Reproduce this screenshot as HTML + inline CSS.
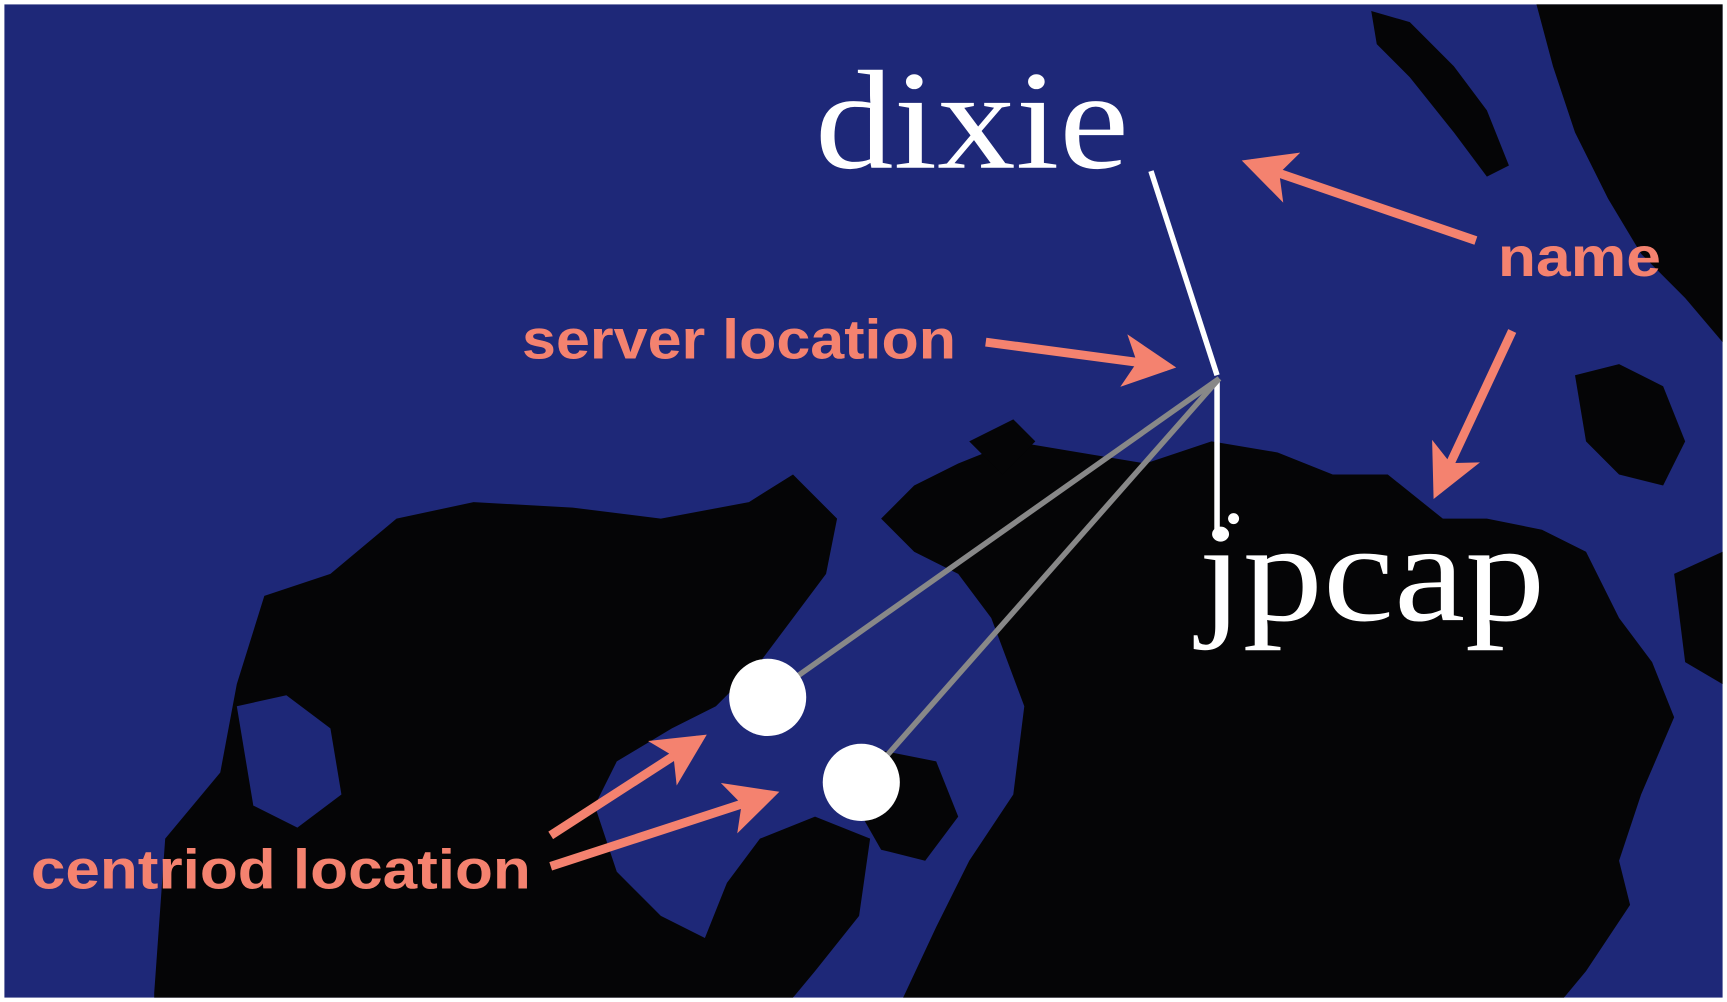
<!DOCTYPE html>
<html><head><meta charset="utf-8"><style>
html,body{margin:0;padding:0;background:#fff;width:1727px;height:1002px;overflow:hidden}
svg{display:block}
.lbl{font-family:"Liberation Sans",sans-serif;font-weight:bold;fill:#f4826f}
.ser{font-family:"Liberation Serif",serif;fill:#fff}
</style></head><body>
<svg width="1727" height="1002" viewBox="0 0 1568 908" preserveAspectRatio="none">
<defs>
<marker id="ah" markerWidth="6" markerHeight="6" refX="5" refY="3" orient="auto" markerUnits="strokeWidth">
<path d="M0,0 L6,3 L0,6 L1.5,3 Z" fill="#f4826f"/>
</marker>
</defs>
<rect x="0" y="0" width="1568" height="908" fill="#fff"/>
<rect x="4" y="4" width="1560" height="900" fill="#1e2878"/>
<g fill="#050506">
<path d="M140,900 L150,760 L200,700 L215,620 L240,540 L300,520 L360,470 L430,455 L520,460 L600,470 L680,455 L720,430 L760,470 L750,520 L720,560 L690,600 L650,640 L610,660 L560,690 L540,730 L560,790 L600,830 L640,850 L660,800 L690,760 L740,740 L790,760 L780,830 L740,880 L720,904 L140,904 Z"/>
<path d="M215,640 L260,630 L300,660 L310,720 L270,750 L230,730 Z" fill="#1e2878"/>
<path d="M820,904 L850,840 L880,780 L920,720 L930,640 L900,560 L870,520 L830,500 L800,470 L830,440 L870,420 L920,400 L980,410 L1040,420 L1100,400 L1160,410 L1210,430 L1260,430 L1310,470 L1350,470 L1400,480 L1440,500 L1470,560 L1500,600 L1520,650 L1490,720 L1470,780 L1480,820 L1460,850 L1440,880 L1420,904 Z"/>
<path d="M760,700 L800,680 L850,690 L870,740 L840,780 L800,770 Z"/>
<path d="M1395,4 L1564,4 L1564,310 L1530,270 L1490,230 L1460,180 L1430,120 L1410,60 Z"/>
<path d="M1245,10 L1280,20 L1320,60 L1350,100 L1370,150 L1350,160 L1320,120 L1280,70 L1250,40 Z"/>
<path d="M1430,340 L1470,330 L1510,350 L1530,400 L1510,440 L1470,430 L1440,400 Z"/>
<path d="M880,400 L920,380 L940,400 L910,430 Z"/>
<path d="M1520,520 L1564,500 L1564,620 L1530,600 Z"/>
</g>
<line x1="1045" y1="155" x2="1105" y2="340" stroke="#fff" stroke-width="5"/>
<line x1="1105" y1="345" x2="1105" y2="480" stroke="#fff" stroke-width="5"/>
<circle cx="1120" cy="470" r="5" fill="#fff"/>
<line x1="1107" y1="343" x2="725" y2="612" stroke="#888" stroke-width="5"/>
<line x1="1107" y1="343" x2="805" y2="685" stroke="#888" stroke-width="5"/>
<circle cx="697" cy="632" r="35" fill="#fff"/>
<circle cx="782" cy="709" r="35" fill="#fff"/>
<text class="ser" x="740" y="152" font-size="128" textLength="285" lengthAdjust="spacingAndGlyphs">dixie</text>
<text class="ser" x="1088" y="562" font-size="128" textLength="315" lengthAdjust="spacingAndGlyphs">jpcap</text>
<text class="lbl" x="474" y="325" font-size="50" textLength="394" lengthAdjust="spacingAndGlyphs">server location</text>
<text class="lbl" x="1360" y="250" font-size="50" textLength="148" lengthAdjust="spacingAndGlyphs">name</text>
<text class="lbl" x="28" y="805" font-size="50" textLength="454" lengthAdjust="spacingAndGlyphs">centriod location</text>
<g stroke="#f4826f" stroke-width="8" fill="none" marker-end="url(#ah)">
<line x1="1340" y1="218" x2="1135" y2="148"/>
<line x1="1373" y1="300" x2="1305" y2="445"/>
<line x1="895" y1="310" x2="1060" y2="332"/>
<line x1="500" y1="757" x2="635" y2="670"/>
<line x1="500" y1="785" x2="700" y2="720"/>
</g>
</svg>
</body></html>
